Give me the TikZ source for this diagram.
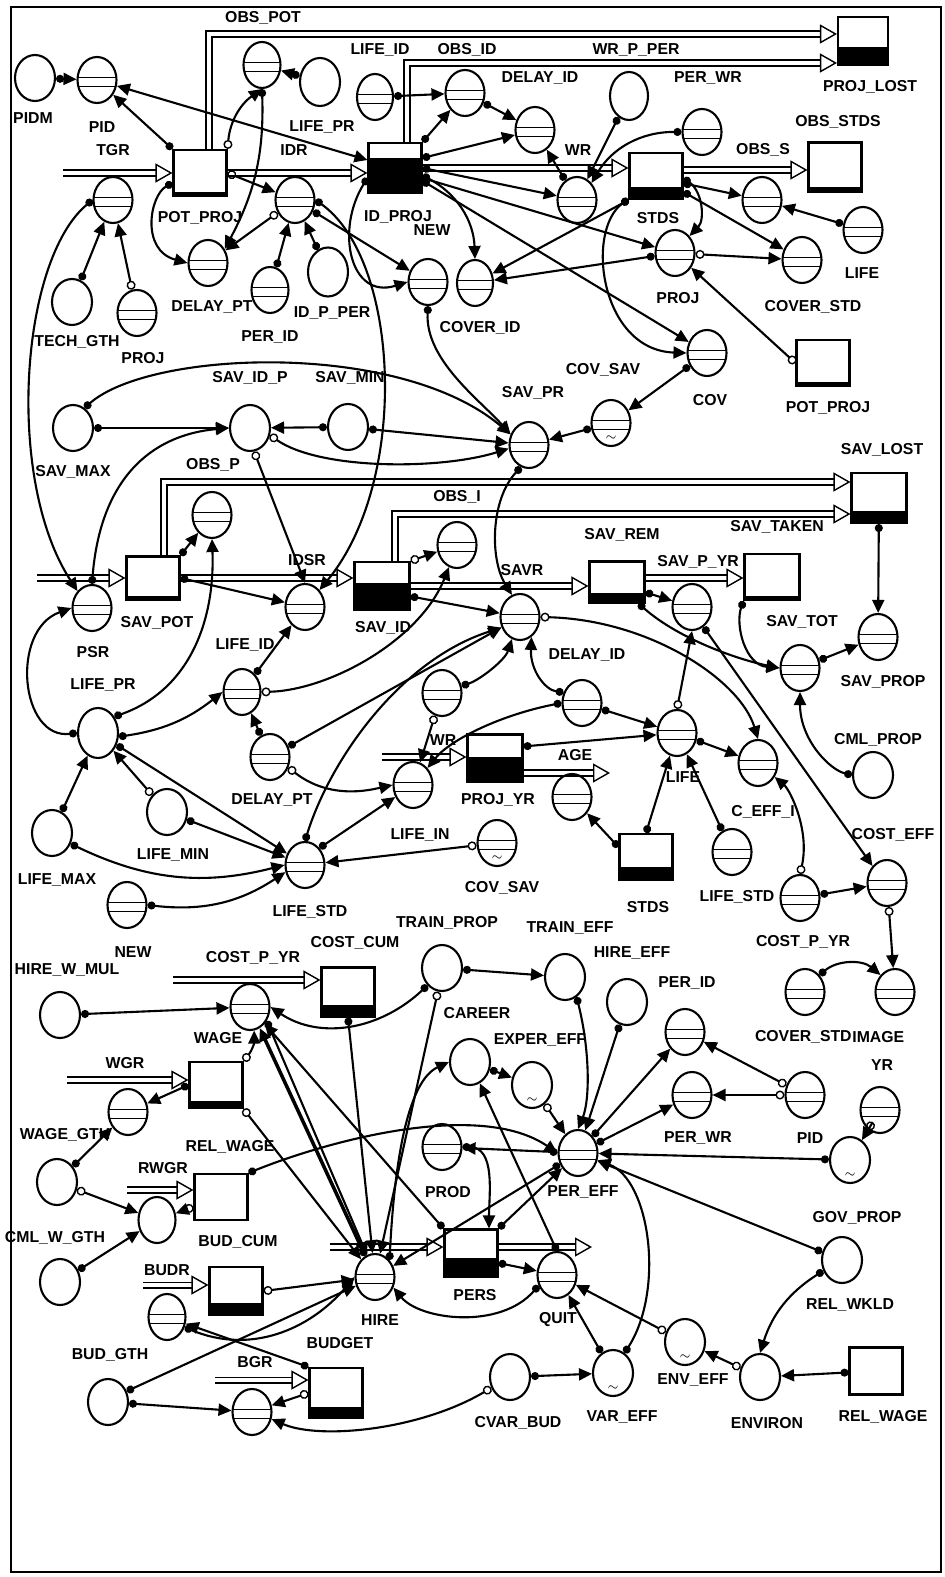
\documentclass[tikz,border=0pt]{standalone}
\usepackage{fontspec}
\setmainfont{Liberation Sans}
\usetikzlibrary{arrows.meta,positioning,shapes.geometric,calc}

\newcommand{\convbars}{%
  \draw[line width=0.8pt] ([yshift=0.05cm]path picture bounding box.west) -- ([yshift=0.05cm]path picture bounding box.east);
  \draw[line width=0.8pt] ([yshift=-0.13cm]path picture bounding box.west) -- ([yshift=-0.13cm]path picture bounding box.east);}
\newcommand{\gfmark}{%
  \node[font=\scriptsize, inner sep=0pt] at ([yshift=-0.3cm]path picture bounding box.center) {$\sim$};}

\begin{document}
\begin{tikzpicture}[x=0.02cm, y=-0.02cm,
    conv/.style={ellipse, draw, line width=1.2pt, minimum width=0.78cm,
      minimum height=0.92cm, inner sep=0pt, path picture={\convbars}},
    gfconv/.style={conv, path picture={\convbars\gfmark}},
    aux/.style={ellipse, draw, line width=1.2pt, minimum width=0.8cm,
      minimum height=0.92cm, inner sep=0pt},
    gfaux/.style={aux, path picture={\gfmark}},
    stock/.style={rectangle, draw, line width=1.2pt, minimum width=1.06cm,
      minimum height=0.92cm, inner sep=0pt},
    blk/.style={path picture={\fill (path picture bounding box.south west)
      rectangle ([yshift=#1]path picture bounding box.south east);}},
    pipe/.style={double, double distance=2.4pt, line width=0.8pt,
      -{Triangle[open, length=3.4mm, width=3.8mm, line width=0.8pt]}},
    con/.style={{Circle[length=1.6mm]}-{Triangle[length=2.6mm, width=2.4mm]},
      line width=1.2pt},
    ocon/.style={{Circle[open, length=1.8mm, line width=0.8pt]}-{Triangle[length=2.6mm, width=2.4mm]},
      line width=1.2pt},
    both/.style={{Triangle[length=2.6mm, width=2.4mm]}-{Triangle[length=2.6mm, width=2.4mm]},
      line width=1.2pt},
    lbl/.style={font=\bfseries\fontsize{9}{10}\selectfont, inner sep=0pt}
]
\useasboundingbox (0,0) rectangle (945,1577);
% --- frame ---
\draw[line width=1.5pt] (11,7) rectangle (941,1572);

% --- stocks ---
\node[stock, blk=0.07cm] (potproj) at (200,173) {};
\node[stock, minimum height=1cm, blk=0.7cm] (idproj) at (395,168) {};
\node[stock, blk=0.24cm] (stds) at (656,176) {};
\node[stock, minimum width=1cm, minimum height=0.96cm, blk=0.36cm] (projlost) at (863,41) {};
\node[stock, minimum height=0.98cm, blk=0.08cm] (obsstds) at (835,167) {};
\node[stock, blk=0.07cm] (potproj2) at (823,363) {};
\node[stock, minimum width=1.1cm, minimum height=1cm, blk=0.24cm] (savlost) at (879,498) {};
\node[stock, minimum height=0.86cm, blk=0.07cm] (savpot) at (153,578) {};
\node[stock, minimum width=1.1cm, minimum height=0.96cm, blk=0.54cm] (savid) at (382,586) {};
\node[stock, minimum width=1.1cm, minimum height=0.82cm, blk=0.2cm] (savrem) at (617,582) {};
\node[stock, minimum width=1.1cm, blk=0.07cm] (savtot) at (772,577) {};
\node[stock, minimum width=1.1cm, minimum height=0.94cm, blk=0.5cm] (projyr) at (495,758) {};
\node[stock, blk=0.26cm] (stds2) at (646,857) {};
\node[stock, minimum height=0.98cm, blk=0.24cm] (costcum) at (348,992) {};
\node[stock, blk=0.14cm] (wgrs) at (216,1085) {};
\node[stock] (relwages) at (221,1197) {};
\node[stock, minimum height=0.96cm, blk=0.24cm] (budrs) at (236,1291) {};
\node[stock, minimum height=1cm, blk=0.22cm] (budget) at (336,1393) {};
\node[stock, minimum height=0.94cm, blk=0.38cm] (pers) at (471,1253) {};
\node[stock, minimum height=0.94cm] (relwage) at (876,1371) {};

% --- flows ---
\coordinate (tgrsrc) at (63,173);
\coordinate (psrsrc) at (37,578);
\coordinate (wrsrc) at (382,757);
\coordinate (agesnk) at (610,773);
\coordinate (cpysrc) at (173,980);
\coordinate (wgrsrc) at (67,1080);
\coordinate (rwgrsrc) at (127,1190);
\coordinate (budrsrc) at (143,1285);
\coordinate (bgrsrc) at (215,1380);
\coordinate (hiresrc) at (330,1247);
\coordinate (quitsnk) at (592,1247);
\draw[pipe] (tgrsrc) -- (potproj.west);
\draw[pipe] (potproj.east) -- (potproj.east -| idproj.west);
\draw[pipe] (idproj.east) -- (idproj.east -| stds.west);
\draw[pipe] ([yshift=0.12cm]stds.east) -- ([yshift=0.12cm]stds.east -| obsstds.west);
\draw[pipe] ([xshift=0.18cm]potproj.north) |- ([yshift=0.14cm]projlost.west);
\draw[pipe] ([xshift=0.24cm]idproj.north) |- ([yshift=-0.44cm]projlost.west);
\draw[pipe] (psrsrc) -- (savpot.west);
\draw[pipe] (savpot.east) -- (savpot.east -| savid.west);
\draw[pipe] ([xshift=0.22cm]savpot.north) |- ([yshift=0.32cm]savlost.west);
\draw[pipe] ([xshift=0.26cm]savid.north) |- ([yshift=-0.32cm]savlost.west);
\draw[pipe] (savid.east) -- (savid.east -| savrem.west);
\draw[pipe] ([yshift=0.08cm]savrem.east) -- ([yshift=0.08cm]savrem.east -| savtot.west);
\draw[pipe] (wrsrc) -- (wrsrc -| projyr.west);
\draw[pipe] (agesnk -| projyr.east) -- (agesnk);
\draw[pipe] (cpysrc) -- (cpysrc -| costcum.west);
\draw[pipe] (wgrsrc) -- (wgrsrc -| wgrs.west);
\draw[pipe] (rwgrsrc) -- (rwgrsrc -| relwages.west);
\draw[pipe] (budrsrc) -- (budrsrc -| budrs.west);
\draw[pipe] (bgrsrc) -- (bgrsrc -| budget.west);
\draw[pipe] (hiresrc) -- (hiresrc -| pers.west);
\draw[pipe] (quitsnk -| pers.east) -- (quitsnk);

% --- converters ---
\node[aux] (pidm) at (35,78) {};
\node[conv] (pid) at (97,80) {};
\node[conv, minimum width=0.74cm] (obspot) at (262,65) {};
\node[aux, minimum height=0.96cm] (lifepr) at (320,82) {};
\node[conv, minimum width=0.72cm] (lifeid) at (375,97) {};
\node[conv] (obsid) at (465,93) {};
\node[conv] (delayid) at (535,130) {};
\node[aux, minimum width=0.76cm, minimum height=0.96cm] (wrpper) at (629,96) {};
\node[conv] (perwr) at (702,132) {};
\node[conv] (tgrv) at (113,200) {};
\node[conv] (idrv) at (295,200) {};
\node[conv] (delaypt) at (208,263) {};
\node[conv, minimum width=0.74cm] (perid) at (270,290) {};
\node[aux, minimum height=0.98cm] (idpper) at (328,272) {};
\node[aux] (techgth) at (72,302) {};
\node[conv] (proj1) at (137,313) {};
\node[conv] (new1) at (428,282) {};
\node[conv, minimum width=0.72cm] (coverid) at (475,283) {};
\node[conv] (wrv) at (577,200) {};
\node[conv] (obssv) at (762,200) {};
\node[conv] (life1) at (863,230) {};
\node[conv] (proj2) at (675,253) {};
\node[conv] (coverstd) at (802,260) {};
\node[conv] (cov) at (707,353) {};
\node[gfconv] (covsav1) at (611,423) {};
\node[conv] (savpr) at (529,445) {};
\node[aux] (savmin) at (348,427) {};
\node[aux] (savidp) at (250,428) {};
\node[aux] (savmax) at (73,428) {};
\node[conv] (obsp) at (212,515) {};
\node[conv] (obsi) at (457,545) {};
\node[conv] (psr) at (92,608) {};
\node[conv] (idsr) at (305,607) {};
\node[conv] (savr) at (520,617) {};
\node[conv] (savpyr) at (692,607) {};
\node[conv] (savtotc) at (800,668) {};
\node[conv] (savprop) at (878,637) {};
\node[aux] (cmlprop) at (873,775) {};
\node[aux, minimum height=1cm] (lifepr2) at (98,733) {};
\node[conv, minimum width=0.74cm] (lifeid2) at (242,692) {};
\node[conv] (delaypt2) at (270,757) {};
\node[conv] (wr2) at (442,693) {};
\node[conv] (delayid2) at (582,703) {};
\node[conv] (life2) at (677,733) {};
\node[conv] (ceffi) at (758,763) {};
\node[conv] (lifein) at (413,785) {};
\node[conv] (agev) at (572,797) {};
\node[aux] (lifemax) at (52,833) {};
\node[aux] (lifemin) at (167,812) {};
\node[conv] (new2) at (127,905) {};
\node[conv] (lifestd) at (305,865) {};
\node[gfconv] (covsav2) at (497,843) {};
\node[conv] (lifestd2) at (732,852) {};
\node[conv] (costeff) at (887,883) {};
\node[conv] (costpyr) at (800,898) {};
\node[conv] (coverstd2) at (805,992) {};
\node[conv] (image) at (895,992) {};
\node[aux] (hirewmul) at (60,1015) {};
\node[conv] (wage) at (250,1007) {};
\node[aux] (career) at (442,968) {};
\node[aux] (traineff) at (565,977) {};
\node[aux] (hireeff) at (627,1002) {};
\node[conv] (perid2) at (685,1032) {};
\node[conv] (perwr2) at (692,1095) {};
\node[conv] (pid2) at (805,1095) {};
\node[conv] (yr) at (880,1110) {};
\node[gfaux] (govprop) at (850,1160) {};
\node[conv] (wagegth) at (128,1112) {};
\node[aux] (cmlwgth) at (57,1182) {};
\node[aux, minimum width=0.74cm] (rwgrc) at (157,1220) {};
\node[aux] (cmlwgth2) at (60,1282) {};
\node[conv, minimum width=0.74cm] (budgthc) at (167,1317) {};
\node[aux] (budgth) at (108,1402) {};
\node[conv] (bgrv) at (252,1412) {};
\node[conv] (hire) at (375,1277) {};
\node[conv] (quit) at (557,1275) {};
\node[aux] (cvarbud) at (510,1377) {};
\node[gfaux] (vareff) at (613,1373) {};
\node[gfaux] (enveff) at (685,1342) {};
\node[aux] (environ) at (760,1377) {};
\node[aux] (relwkld) at (842,1260) {};
\node[aux] (careerc) at (470,1062) {};
\node[gfaux] (expereff) at (532,1085) {};
\node[conv] (prod) at (442,1147) {};
\node[conv] (pereff) at (578,1153) {};

% --- labels ---
\node[lbl] (pidm-l) at (33,118) {PIDM};
\node[lbl] (pid-l) at (102,127) {PID};
\node[lbl] (obspot-l) at (263,18) {OBS\_POT};
\node[lbl] (lifepr-l) at (322,127) {LIFE\_PR};
\node[lbl] (lifeid-l) at (380,50) {LIFE\_ID};
\node[lbl] (obsid-l) at (467,50) {OBS\_ID};
\node[lbl] (delayid-l) at (540,78) {DELAY\_ID};
\node[lbl] (wrpper-l) at (636,50) {WR\_P\_PER};
\node[lbl] (perwr-l) at (708,78) {PER\_WR};
\node[lbl] (projlost-l) at (870,87) {PROJ\_LOST};
\node[lbl] (obsstds-l) at (838,122) {OBS\_STDS};
\node[lbl] (obss-l) at (763,150) {OBS\_S};
\node[lbl] (tgr-l) at (113,150) {TGR};
\node[lbl] (idr-l) at (294,150) {IDR};
\node[lbl] (potproj-l) at (200,218) {POT\_PROJ};
\node[lbl] (idproj-l) at (398,217) {ID\_PROJ};
\node[lbl] (new1-l) at (432,230) {NEW};
\node[lbl] (wr-l) at (578,150) {WR};
\node[lbl] (stds-l) at (658,218) {STDS};
\node[lbl] (delaypt-l) at (212,307) {DELAY\_PT};
\node[lbl] (perid-l) at (270,337) {PER\_ID};
\node[lbl] (idpper-l) at (332,313) {ID\_P\_PER};
\node[lbl] (techgth-l) at (77,342) {TECH\_GTH};
\node[lbl] (proj1-l) at (143,358) {PROJ};
\node[lbl] (coverid-l) at (480,328) {COVER\_ID};
\node[lbl] (proj2-l) at (678,298) {PROJ};
\node[lbl] (coverstd-l) at (813,307) {COVER\_STD};
\node[lbl] (life1-l) at (862,273) {LIFE};
\node[lbl] (cov-l) at (710,400) {COV};
\node[lbl] (potproj2-l) at (828,408) {POT\_PROJ};
\node[lbl] (covsav1-l) at (603,370) {COV\_SAV};
\node[lbl] (savpr-l) at (533,393) {SAV\_PR};
\node[lbl] (savmin-l) at (350,378) {SAV\_MIN};
\node[lbl] (savidp-l) at (250,378) {SAV\_ID\_P};
\node[lbl] (savmax-l) at (73,472) {SAV\_MAX};
\node[lbl] (obsp-l) at (213,465) {OBS\_P};
\node[lbl] (savlost-l) at (882,450) {SAV\_LOST};
\node[lbl] (obsi-l) at (457,497) {OBS\_I};
\node[lbl] (savrem-l) at (622,535) {SAV\_REM};
\node[lbl] (savtaken-l) at (777,527) {SAV\_TAKEN};
\node[lbl] (idsr-l) at (307,560) {IDSR};
\node[lbl] (savr-l) at (522,570) {SAVR};
\node[lbl] (savpyr-l) at (698,562) {SAV\_P\_YR};
\node[lbl] (savpot-l) at (157,623) {SAV\_POT};
\node[lbl] (psr-l) at (93,652) {PSR};
\node[lbl] (savid-l) at (383,628) {SAV\_ID};
\node[lbl] (savtot-l) at (802,622) {SAV\_TOT};
\node[lbl] (savprop-l) at (883,682) {SAV\_PROP};
\node[lbl] (cmlprop-l) at (878,740) {CML\_PROP};
\node[lbl] (lifepr2-l) at (103,685) {LIFE\_PR};
\node[lbl] (lifeid2-l) at (245,645) {LIFE\_ID};
\node[lbl] (delayid2-l) at (587,655) {DELAY\_ID};
\node[lbl] (wr2-l) at (443,740) {WR};
\node[lbl] (age-l) at (575,755) {AGE};
\node[lbl] (life2-l) at (683,777) {LIFE};
\node[lbl] (delaypt2-l) at (272,800) {DELAY\_PT};
\node[lbl] (projyr-l) at (498,800) {PROJ\_YR};
\node[lbl] (ceffi-l) at (763,812) {C\_EFF\_I};
\node[lbl] (lifein-l) at (420,835) {LIFE\_IN};
\node[lbl] (lifemin-l) at (173,855) {LIFE\_MIN};
\node[lbl] (lifemax-l) at (57,880) {LIFE\_MAX};
\node[lbl] (costeff-l) at (893,835) {COST\_EFF};
\node[lbl] (covsav2-l) at (502,888) {COV\_SAV};
\node[lbl] (stds2-l) at (648,907) {STDS};
\node[lbl] (lifestd2-l) at (737,897) {LIFE\_STD};
\node[lbl] (lifestd-l) at (310,912) {LIFE\_STD};
\node[lbl] (new2-l) at (133,952) {NEW};
\node[lbl] (costpyr-l) at (803,942) {COST\_P\_YR};
\node[lbl] (trainprop-l) at (447,923) {TRAIN\_PROP};
\node[lbl] (traineff-l) at (570,928) {TRAIN\_EFF};
\node[lbl] (hireeff-l) at (632,953) {HIRE\_EFF};
\node[lbl] (cpyr-l) at (253,958) {COST\_P\_YR};
\node[lbl] (costcum-l) at (355,943) {COST\_CUM};
\node[lbl] (hirewmul-l) at (67,970) {HIRE\_W\_MUL};
\node[lbl] (perid2-l) at (687,983) {PER\_ID};
\node[lbl] (career-l) at (477,1013) {CAREER};
\node[lbl, anchor=east] (coverstd2-l) at (852,1037) {COVER\_STD};
\node[lbl, anchor=west, right=0pt of coverstd2-l] (image-l) {IMAGE};
\node[lbl] (wage-l) at (218,1038) {WAGE};
\node[lbl] (expereff-l) at (540,1040) {EXPER\_EFF};
\node[lbl] (yr-l) at (882,1065) {YR};
\node[lbl] (wgr-l) at (125,1063) {WGR};
\node[lbl] (wagegth-l) at (65,1135) {WAGE\_GTH};
\node[lbl] (perwr2-l) at (698,1138) {PER\_WR};
\node[lbl] (pid2-l) at (810,1138) {PID};
\node[lbl] (relwages-l) at (230,1147) {REL\_WAGE};
\node[lbl] (rwgr-l) at (163,1168) {RWGR};
\node[lbl] (prod-l) at (448,1192) {PROD};
\node[lbl] (pereff-l) at (583,1192) {PER\_EFF};
\node[lbl] (govprop-l) at (857,1218) {GOV\_PROP};
\node[lbl] (cmlwgth-l) at (55,1238) {CML\_W\_GTH};
\node[lbl] (budcum-l) at (238,1242) {BUD\_CUM};
\node[lbl] (budr-l) at (167,1270) {BUDR};
\node[lbl] (pers-l) at (475,1295) {PERS};
\node[lbl] (relwkld-l) at (850,1305) {REL\_WKLD};
\node[lbl] (hire-l) at (380,1320) {HIRE};
\node[lbl] (quit-l) at (558,1320) {QUIT};
\node[lbl] (budget-l) at (340,1343) {BUDGET};
\node[lbl] (budgth-l) at (110,1355) {BUD\_GTH};
\node[lbl] (bgr-l) at (255,1362) {BGR};
\node[lbl] (enveff-l) at (693,1380) {ENV\_EFF};
\node[lbl] (vareff-l) at (622,1417) {VAR\_EFF};
\node[lbl] (relwage-l) at (883,1417) {REL\_WAGE};
\node[lbl] (cvarbud-l) at (518,1423) {CVAR\_BUD};
\node[lbl] (environ-l) at (767,1423) {ENVIRON};

% --- connectors: projects sector ---
\draw[con] (pidm) -- (pid);
\draw[con] (potproj.north west) -- (pid);
\draw[both] ([yshift=0.16cm]idproj.west) -- (pid);
\draw[con] (lifepr) -- (obspot);
\draw[ocon] (potproj.north east) to[bend left=25] (obspot.south);
\draw[con] (obspot.south) to[bend left=15] (delaypt.40);
\draw[ocon] (potproj.east) -- (idrv);
\draw[con] (potproj.200) .. controls (150,195) and (140,250) .. (delaypt.west);
\draw[ocon] (idrv) -- (delaypt);
\draw[con] (techgth) -- (tgrv);
\draw[ocon] (proj1) -- (tgrv);
\draw[con] (tgrv.west) .. controls (20,260) and (5,480) .. (psr.north west);
\draw[con] (idpper) -- (idrv);
\draw[con] (perid) -- (idrv);
\draw[con] (lifeid) -- (obsid);
\draw[con] (idproj.north east) -- (obsid);
\draw[con] (obsid) -- (delayid);
\draw[con] (idproj.20) -- (delayid);
\draw[con] (wrv) -- (delayid);
\draw[con] (idproj.east) -- (wrv);
\draw[con] (idproj.200) .. controls (335,230) and (350,300) .. (new1.west);
\draw[con] (idrv) -- (new1);
\draw[con] (new1.south) .. controls (425,360) and (480,400) .. (savpr.150);
\draw[con] (idproj.-15) to[bend left=30] (coverid.north);
\draw[con] (stds.south west) -- (coverid);
\draw[con] (proj2) -- (coverid);
\draw[con] (idproj.-20) -- (proj2);
\draw[con] (idproj.-25) -- (cov);
\draw[con] (stds.220) .. controls (585,230) and (600,350) .. (cov.west);
\draw[con] (idrv.east) .. controls (400,260) and (410,480) .. (idsr.north east);
\draw[con] (wrpper) -- (wrv);
\draw[con] (perwr.west) to[bend right=30] (wrv.north east);
\draw[con] (stds.-15) -- (obssv);
\draw[con] (life1) -- (obssv);
\draw[con] (stds.-30) -- (coverstd);
\draw[ocon] (proj2) -- (coverstd);
\draw[con] (stds.-5) to[bend left=50] (proj2.north east);
\draw[ocon] (potproj2.west) -- (proj2);
\draw[con] (cov) -- (covsav1);
\draw[con] (covsav1) -- (savpr);

% --- connectors: savings sector ---
\draw[con] (savmax) -- (savidp);
\draw[con] (savmax.60) .. controls (150,350) and (400,340) .. (savpr.150);
\draw[con] (savmin) -- (savidp);
\draw[con] (savmin) -- (savpr);
\draw[ocon] (savidp.-20) .. controls (320,470) and (440,470) .. (savpr.190);
\draw[ocon] (savidp.-80) -- (idsr.north);
\draw[con] (psr.north) .. controls (100,480) and (150,435) .. (savidp.west);
\draw[con] (savpot.north east) -- (obsp);
\draw[con] (lifepr2.45) .. controls (190,690) and (215,620) .. (obsp.south);
\draw[con] (lifepr2.west) .. controls (20,740) and (10,630) .. (psr.west);
\draw[con] (savpot.east) -- (idsr);
\draw[con] (lifeid2) -- (idsr);
\draw[con] (lifepr2.-10) to[bend right=15] (lifeid2.west);
\draw[ocon] (lifeid2.east) .. controls (330,690) and (420,640) .. (obsi.-110);
\draw[con] (delaypt2) -- (lifeid2);
\draw[con] (delaypt2) -- (savr);
\draw[ocon] (delaypt2.-30) .. controls (330,800) and (370,790) .. (lifein.west);
\draw[ocon] (savid.north east) -- (obsi);
\draw[con] (savid.-20) -- (savr);
\draw[con] (savpr.-110) .. controls (490,500) and (490,560) .. (savr.110);
\draw[ocon] (savr.east) .. controls (650,620) and (740,680) .. (ceffi.north);
\draw[con] (delayid2.150) .. controls (545,690) and (530,670) .. (savr.-60);
\draw[con] (wr2.20) .. controls (480,680) and (505,660) .. (savr.-110);
\draw[ocon] (wr2) -- (lifein);
\draw[con] (delayid2) -- (life2);
\draw[con] (delayid2.west) .. controls (500,715) and (450,740) .. (lifein.north east);
\draw[con] ([yshift=-0.26cm]projyr.north east) -- (life2);
\draw[con] (savrem.-20) -- (savpyr);
\draw[con] (savrem.-45) .. controls (680,640) and (740,660) .. (savtotc.west);
\draw[con] (savtot.south west) .. controls (735,625) and (745,665) .. (savtotc.west);
\draw[con] (savlost) -- (savprop);
\draw[con] (savtotc) -- (savprop);
\draw[con] (cmlprop.west) .. controls (830,770) and (800,740) .. (savtotc.south);
\draw[ocon] (life2.north) -- (savpyr.south);
\draw[con] (life2) -- (ceffi);
\draw[con] (savpyr.-60) -- (costeff.north west);
\draw[con] (stds2.north) -- (life2);
\draw[con] (lifestd2) -- (life2);
\draw[con] (stds2.160) -- (agev);
\draw[ocon] (costpyr.north) .. controls (810,830) and (790,790) .. (ceffi.-40);
\draw[con] (costpyr) -- (costeff);
\draw[ocon] (costeff) -- (image);
\draw[con] (coverstd2.north east) to[bend left=40] (image.north west);

% --- connectors: life sector ---
\draw[con] (lifemax) -- (lifepr2);
\draw[ocon] (lifemin) -- (lifepr2);
\draw[con] (lifemin) -- (lifestd);
\draw[con] (lifemax.-30) to[bend right=20] (lifestd.west);
\draw[con] (new2.east) to[bend right=20] (lifestd.200);
\draw[con] (lifepr2) -- (lifestd);
\draw[con] (lifestd.north east) -- (lifein);
\draw[con] (lifestd.north) .. controls (330,760) and (400,660) .. (savr.-150);
\draw[ocon] (covsav2) -- (lifestd);

% --- connectors: personnel sector ---
\draw[con] (hirewmul) -- (wage);
\draw[ocon] (wgrs.north east) to[bend right=20] (wage.-80);
\draw[con] (wgrs.west) -- (wagegth);
\draw[ocon] (wgrs.south east) -- (hire);
\draw[con] (cmlwgth) -- (wagegth);
\draw[ocon] (cmlwgth) -- (rwgrc);
\draw[con] (cmlwgth2) -- (rwgrc);
\draw[ocon] (relwages) -- (rwgrc);
\draw[con] (relwages.north east) .. controls (330,1140) and (480,1100) .. (pereff.west);
\draw[ocon] (budrs.east) -- (hire);
\draw[con] (budget.north west) -- (budgthc);
\draw[con] (budgthc.-30) .. controls (250,1355) and (310,1330) .. (hire.west);
\draw[con] (budgth.30) -- (hire);
\draw[con] (budgth) -- (bgrv);
\draw[ocon] (budget.west) -- (bgrv);
\draw[ocon] (cvarbud.-150) .. controls (420,1430) and (320,1440) .. (bgrv.-20);
\draw[con] (career) -- (traineff);
\draw[con] (career.-130) .. controls (380,1030) and (320,1040) .. (wage.east);
\draw[ocon] (career.-100) -- (hire);
\draw[con] (traineff.-60) .. controls (590,1050) and (590,1100) .. (pereff.north);
\draw[con] (hireeff) -- (pereff);
\draw[con] (careerc) -- (expereff);
\draw[ocon] (expereff) -- (pereff);
\draw[con] (hire.north east) .. controls (395,1150) and (410,1080) .. (careerc.west);
\draw[con] (quit.north) -- (careerc);
\draw[con] (pereff) -- (prod);
\draw[con] (pereff) -- (perid2);
\draw[con] (pereff) -- (perwr2);
\draw[ocon] (pid2) -- (perid2);
\draw[ocon] (pid2) -- (perwr2);
\draw[ocon] (yr) -- (govprop);
\draw[con] (govprop) -- (pereff);
\draw[con] (relwkld) -- (pereff);
\draw[con] (relwkld.-150) to[bend right=20] (environ.north);
\draw[con] (relwage) -- (environ);
\draw[ocon] (environ) -- (enveff);
\draw[ocon] (enveff) -- (quit);
\draw[con] (vareff) -- (quit);
\draw[con] (vareff.60) .. controls (665,1290) and (650,1180) .. (pereff.-20);
\draw[con] (cvarbud) -- (vareff);
\draw[con] (pers.-20) -- (quit);
\draw[con] (quit.-150) .. controls (500,1330) and (420,1320) .. (hire.-30);
\draw[con] (pers.north east) -- (pereff);
\draw[con] (pereff) -- (hire);
\draw[con] (costcum.south) -- (hire);
\draw[con, line width=2pt] (hire) -- (wage);
\draw[con] (pers.north west) -- (wage);
\draw[con] (wage.-40) -- (hire.110);
\draw[con] (prod.east) to[out=0, in=90] ([xshift=0.36cm]pers.north);
\end{tikzpicture}
\end{document}
